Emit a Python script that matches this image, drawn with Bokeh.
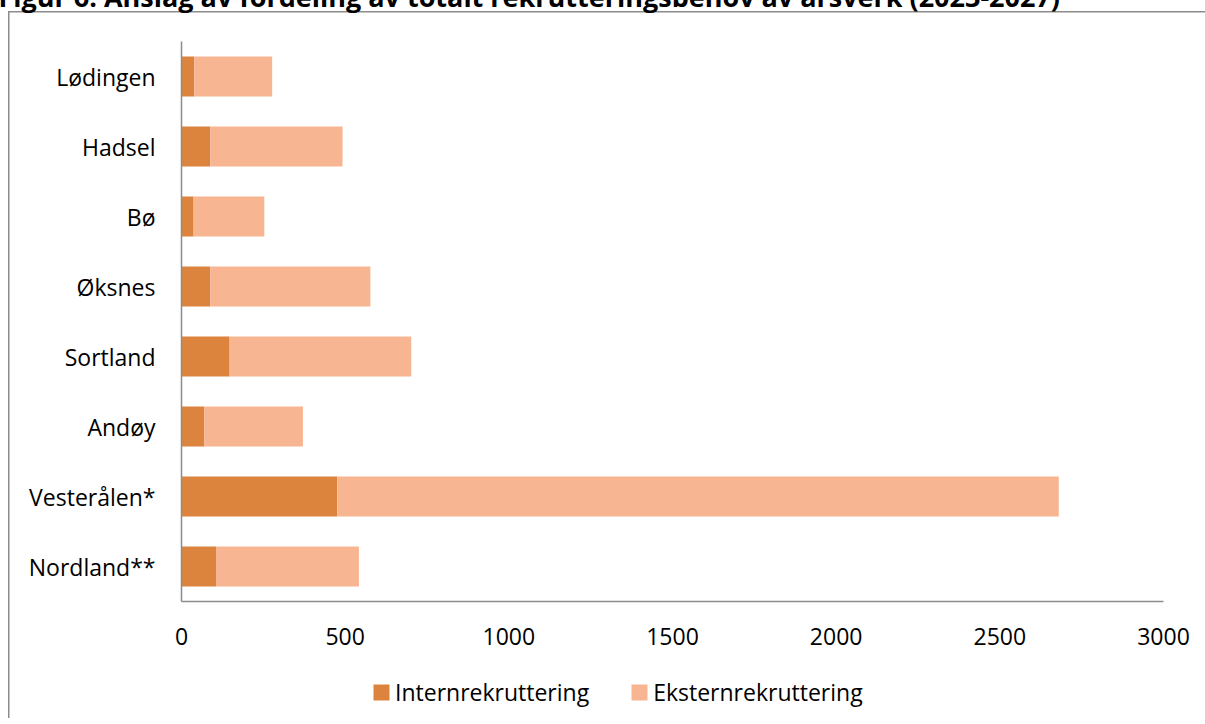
from bokeh.plotting import figure
from bokeh.layouts import column
from bokeh.models import ColumnDataSource, FactorRange, Range1d, Legend, LegendItem, Title, FixedTicker
from bokeh.embed import file_html
from bokeh.resources import INLINE

# Data (bottom to top)
categories = ["Nordland**", "Vesterålen*", "Andøy", "Sortland", "Øksnes", "Bø", "Hadsel", "Lødingen"]
intern = [107, 476, 70, 147, 88, 37, 88, 39]
ekstern = [435, 2204, 301, 555, 489, 216, 404, 238]
series_names = ["Internrekruttering", "Eksternrekruttering"]
colors = ["#DC843E", "#F8B592"]
x_ticks = [0, 500, 1000, 1500, 2000, 2500, 3000]
title_text = "Figur 6: Anslag av fordeling av totalt rekrutteringsbehov av årsverk (2023-2027)"

FONT = "Open Sans"
FS = "23px"
W = 1205
ML, MR = 181, 42
FW = W - ML - MR
MT, FH, MB = 29, 560, 70
LINE = "#8c8c8c"
TH, TOFF, POFF = 44, 25, 7

# --- title strip (the reference shows only the lower part of the title) ---
t = figure(width=W, height=TH, output_backend="svg", toolbar_location=None,
           x_axis_type=None, y_axis_type=None,
           min_border_left=ML, min_border_right=MR, min_border_top=0, min_border_bottom=0,
           x_range=Range1d(0, 1), y_range=Range1d(0, 1))
t.outline_line_color = None
t.xgrid.grid_line_color = None
t.ygrid.grid_line_color = None
t.border_fill_color = None
t.background_fill_color = None
t.add_layout(Title(text=title_text, align="left", offset=-ML - 2, standoff=0,
                   text_font=FONT, text_font_style="bold", text_font_size="27px",
                   text_color="#000000"), "above")
t.styles = {"margin-top": f"-{TOFF}px"}

# --- main chart ---
source = ColumnDataSource(dict(cat=categories, Internrekruttering=intern, Eksternrekruttering=ekstern))

p = figure(width=W, height=MT + FH + MB, output_backend="svg", toolbar_location=None,
           y_range=FactorRange(factors=categories, range_padding=0),
           x_range=Range1d(0, 3000),
           min_border_left=ML, min_border_top=MT, min_border_right=MR, min_border_bottom=MB,
           frame_width=FW, frame_height=FH)
p.outline_line_color = None
p.xgrid.grid_line_color = None
p.ygrid.grid_line_color = None
p.background_fill_color = "white"
p.border_fill_color = None
p.styles = {"margin-top": f"-{POFF}px"}

rs = p.hbar_stack(series_names, y="cat", height=0.57, color=colors, source=source, line_color=None)

for ax in (p.xaxis[0], p.yaxis[0]):
    ax.axis_line_color = LINE
    ax.axis_line_width = 1.5
    ax.major_tick_line_color = None
    ax.minor_tick_line_color = None
    ax.major_tick_in = 0
    ax.major_tick_out = 0
    ax.major_label_text_font = FONT
    ax.major_label_text_font_size = FS
    ax.major_label_text_color = "#000000"
p.xaxis.ticker = FixedTicker(ticks=x_ticks)
p.xaxis.major_label_standoff = 26
p.yaxis.major_label_standoff = 26

# --- legend strip: key renderers share the data, but the strip's range shows none of it ---
LH = 718 - (TH - TOFF) - (MT + FH + MB - POFF)
lg = figure(width=W, height=LH, output_backend="svg", toolbar_location=None,
            x_axis_type=None, y_axis_type=None,
            min_border_left=ML, min_border_right=MR, min_border_top=0, min_border_bottom=0,
            x_range=Range1d(0, 3000), y_range=FactorRange(factors=["legend"]))
lg.outline_line_color = None
lg.xgrid.grid_line_color = None
lg.ygrid.grid_line_color = None
lg.border_fill_color = None
lg.background_fill_color = None
keys = lg.hbar_stack(series_names, y="cat", height=0.57, color=colors, source=source, line_color=None)
legend = Legend(items=[LegendItem(label=n, renderers=[r]) for n, r in zip(series_names, keys)],
                orientation="horizontal", location=(190, 10),
                glyph_width=20, glyph_height=20, label_standoff=4, spacing=40,
                label_text_font=FONT, label_text_font_size=FS, label_text_color="#000000",
                border_line_color=None, background_fill_alpha=0, padding=0, margin=0)
lg.add_layout(legend, "center")

layout = column(t, p, lg, spacing=0)
layout.styles = {"background": f"linear-gradient({LINE},{LINE}) 8px 11px / 1.5px 100% no-repeat, "
                               f"linear-gradient({LINE},{LINE}) 8px 11px / 100% 1.5px no-repeat, #ffffff"}

open("out.html", "w").write(file_html(layout, INLINE))
